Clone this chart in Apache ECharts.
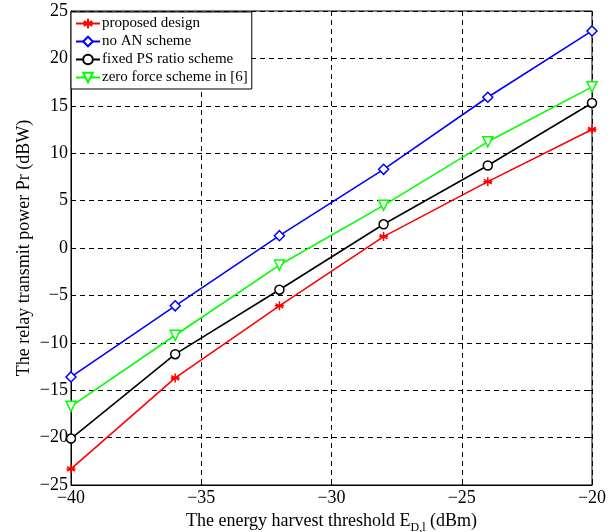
<!DOCTYPE html>
<html><head><meta charset="utf-8">
<script src="https://cdn.jsdelivr.net/npm/echarts@6/dist/echarts.min.js"></script>
<style>html,body{margin:0;padding:0;background:#fff}#c{width:613px;height:532px}</style>
</head><body><div id="c"></div>
<script>
const xValues = [-40, -36, -32, -28, -24, -20];
const proposed = [-23.3, -13.7, -6.1, 1.2, 7.0, 12.5];
const noAN = [-13.6, -6.1, 1.3, 8.3, 15.9, 22.9];
const fixedPS = [-20.1, -11.2, -4.4, 2.5, 8.7, 15.3];
const zeroForce = [-16.7, -9.2, -1.8, 4.5, 11.2, 17.0];
const seriesNames = ['proposed design', 'no AN scheme', 'fixed PS ratio scheme', 'zero force scheme in [6]'];

const F = 'Liberation Serif, Times New Roman, serif';
const minus = v => String(v).replace('-', '\u2212');
const pairs = arr => xValues.map((x, i) => [x, arr[i]]);
const asterisk = 'path://M0,-5L0,5M-4.33,-2.5L4.33,2.5M-4.33,2.5L4.33,-2.5M-5,0L5,0';

const chart = echarts.init(document.getElementById('c'));
const mk = (name, data, color, symbol, size, rot) => ({
  name, type: 'line', data: pairs(data), symbol, symbolSize: size, symbolRotate: rot || 0,
  showAllSymbol: true,
  lineStyle: { color, width: 1.6 },
  itemStyle: { color: symbol === asterisk ? color : '#fff', borderColor: color, borderWidth: 1.5 },
  emphasis: { disabled: true }, animation: false
});
chart.setOption({
  animation: false,
  grid: { left: 71, right: 21, top: 11, bottom: 47, show: true, borderColor: '#000', borderWidth: 1, outerBoundsMode: 'none', containLabel: false },
  legend: {
    orient: 'vertical', left: 71, top: 12, itemWidth: 24, itemHeight: 12, itemGap: 3,
    backgroundColor: '#fff', borderColor: '#000', borderWidth: 1, padding: [4, 4, 4, 4],
    textStyle: { fontFamily: F, fontSize: 15, color: '#000', padding: [0, 0, 0, -3] },
    data: seriesNames
  },
  xAxis: [{
    type: 'value', min: -40, max: -20, interval: 5,
    name: '{t|The energy harvest threshold E}{s|D,l}{t| (dBm)}', nameLocation: 'middle', nameGap: 19,
    nameTextStyle: { rich: { t: { fontFamily: F, fontSize: 18, color: '#000' }, s: { fontFamily: F, fontSize: 12, color: '#000', verticalAlign: 'bottom', padding: [14, 0, 0, 0] } } },
    axisLine: { onZero: false, lineStyle: { color: '#000' } },
    axisTick: { inside: true, length: 5, lineStyle: { color: '#000' } },
    axisLabel: { fontFamily: F, fontSize: 18, color: '#000', margin: 4, formatter: minus },
    splitLine: { lineStyle: { color: '#000', type: [5, 4], width: 1 } }
  }, {
    type: 'value', position: 'top', min: -40, max: -20, interval: 5,
    axisLine: { show: false }, axisLabel: { show: false }, splitLine: { show: false },
    axisTick: { inside: true, length: 5, lineStyle: { color: '#000' } }
  }],
  yAxis: [{
    type: 'value', min: -25, max: 25, interval: 5,
    name: 'The relay transmit power Pr (dBW)', nameLocation: 'middle', nameGap: 38, nameMoveOverlap: false,
    nameTextStyle: { fontFamily: F, fontSize: 18, color: '#000' },
    axisLine: { show: true, onZero: false, lineStyle: { color: '#000' } },
    axisTick: { show: true, inside: true, length: 5, lineStyle: { color: '#000' } },
    axisLabel: { fontFamily: F, fontSize: 18, color: '#000', margin: 3, formatter: minus },
    splitLine: { lineStyle: { color: '#000', type: [5, 4], width: 1 } }
  }, {
    type: 'value', position: 'right', min: -25, max: 25, interval: 5,
    axisLine: { show: false }, axisLabel: { show: false }, splitLine: { show: false },
    axisTick: { show: true, inside: true, length: 5, lineStyle: { color: '#000' } }
  }],
  series: [
    mk(seriesNames[0], proposed, '#ff0000', asterisk, 9),
    mk(seriesNames[1], noAN, '#0000ff', 'diamond', 10),
    mk(seriesNames[2], fixedPS, '#000000', 'circle', 9),
    mk(seriesNames[3], zeroForce, '#00ff00', 'triangle', 10, 180)
  ]
});
</script></body></html>
